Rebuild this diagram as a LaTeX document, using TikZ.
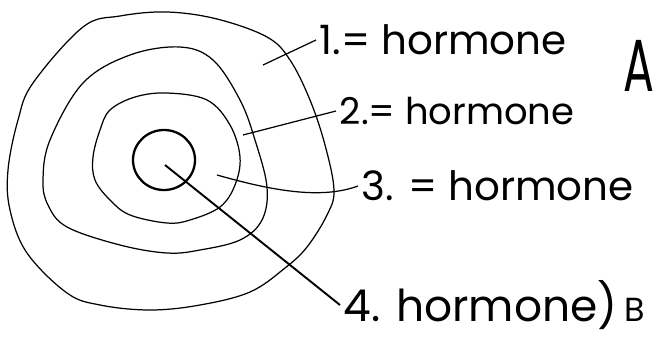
\documentclass[tikz,border=0pt]{standalone}
\usepackage{fontspec}
\setmainfont{Poppins}
\usepackage{tikz}

\begin{document}
\begin{tikzpicture}[x=0.02cm,y=-0.02cm,
	ring/.style={line width=0.7pt,smooth cycle,tension=0.6},
	lbl/.style={anchor=west,inner sep=2pt,font=\fontsize{21}{21}\selectfont}]
			
			\useasboundingbox (0,0) rectangle (658,345);
			
			% rings
			\draw[ring] plot coordinates {(167,12) (217,19) (267,37) (290,60) (310,100) (325,145) (334,190) (327,215) (307,247) (285,268) (250,292) (200,305) (150,310) (100,305) (67,293) (27,253) (10,210) (8,170) (18,120) (33,83) (83,27) (120,16)};
			\draw[ring] plot coordinates {(180,47) (213,60) (240,100) (255,140) (267,187) (262,220) (240,240) (200,250) (167,253) (120,245) (67,227) (48,205) (43,180) (50,140) (83,83) (130,55)};
			\draw[ring] plot coordinates {(167,93) (207,100) (230,125) (240,157) (235,185) (220,207) (190,220) (167,223) (130,215) (110,200) (95,180) (93,157) (100,130) (110,110) (135,97)};
			\draw[line width=1.3pt] (164,160) ellipse [x radius=31,y radius=30];
			
			\coordinate (p1) at (263,65);
			\coordinate (p2) at (243,135);
			\coordinate (p3) at (217,175);
			\coordinate (p4) at (165,165);
			
			\node[lbl,font=\fontsize{23}{23}\selectfont] (l1) at (316,40) {1.= hormone};
			\node[lbl] (l2) at (336,111) {2.= hormone};
			\node[lbl,font=\fontsize{23}{23}\selectfont] (l3) at (358,186) {3. = hormone};
			\node[lbl,font=\fontsize{25}{25}\selectfont] (l4) at (340,305) {4. hormone)\,{\fontsize{19}{19}\selectfont B}};
			\node[font=\fontsize{42}{42}\selectfont] (a) at (639,66) {\scalebox{0.62}[1]{A}};
			
			\draw[line width=0.7pt] (p1) -- (l1.west);
			\draw[line width=0.7pt] (p2) -- (l2.west);
			\draw[line width=0.7pt] (p3) .. controls (270,190) and (320,200) .. (l3.west);
			\draw[line width=1.1pt] (p4) -- (l4.west);
			
		\end{tikzpicture}
\end{document}
